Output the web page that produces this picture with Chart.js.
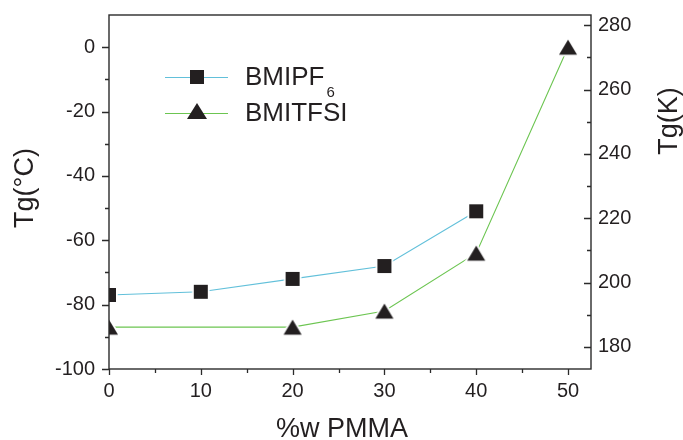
<!DOCTYPE html>
<html>
<head>
<meta charset="utf-8">
<script src="https://cdn.jsdelivr.net/npm/chart.js@4/dist/chart.umd.min.js"></script>
<style>
  html, body { margin: 0; padding: 0; background: #fff; }
  #wrap { width: 683px; height: 440px; }
</style>
</head>
<body>
<div id="wrap"><canvas id="tgChart" width="683" height="440"></canvas></div>
<script>
// ---- data ----
const pf6Pmma = [0, 10, 20, 30, 40];
const pf6Tg = [-77, -76, -72, -68, -51];
const tfsiPmma = [0, 20, 30, 40, 50];
const tfsiTg = [-87, -87, -82, -64, 0];

const xTicks = [0, 5, 10, 15, 20, 25, 30, 35, 40, 45, 50];
const yTicks = [-100, -90, -80, -70, -60, -50, -40, -30, -20, -10, 0];
const kTicks = [180, 190, 200, 210, 220, 230, 240, 250, 260, 270, 280];

const KELVIN = 273.15;
const Y_MIN = -100, Y_MAX = 10;
const INK = '#231f20';
const FONT = '"Liberation Sans", Arial, sans-serif';

// marker images with a thin white halo (gap between line and symbol)
function makeMarker(shape) {
    const c = document.createElement('canvas');
    c.width = 24; c.height = 24;
    const g = c.getContext('2d');
    g.beginPath();
    if (shape === 'square') {
        g.rect(5, 5, 14, 14);
    } else {
        g.moveTo(12, 4.5); g.lineTo(21, 19.5); g.lineTo(3, 19.5); g.closePath();
    }
    g.lineWidth = 3.5; g.strokeStyle = '#fff'; g.lineJoin = 'miter';
    g.stroke();
    g.fillStyle = INK;
    g.fill();
    return c;
}
const squareImg = makeMarker('square');
const triImg = makeMarker('triangle');

function toXY(xs, ys) {
    return xs.map((x, i) => ({ x: x, y: ys[i] }));
}

function noPad(s) {
    s.paddingTop = 0; s.paddingBottom = 0;
    s.paddingLeft = 0; s.paddingRight = 0;
}

// keep symbols inside the plot box (half symbols at x = 0)
const clipPlugin = {
    id: 'clipBox',
    beforeDatasetsDraw(chart) {
        const a = chart.chartArea;
        chart.ctx.save();
        chart.ctx.beginPath();
        chart.ctx.rect(a.left, a.top, a.right - a.left, a.bottom - a.top);
        chart.ctx.clip();
    },
    afterDatasetsDraw(chart) {
        chart.ctx.restore();
    }
};

// frame, tick marks, axis titles and legend
const decorPlugin = {
    id: 'decor',
    afterDraw(chart) {
        const ctx = chart.ctx;
        const a = chart.chartArea;
        const sx = chart.scales.x, sy = chart.scales.y, sk = chart.scales.y2;
        ctx.save();
        ctx.strokeStyle = '#2b2b2b';
        ctx.lineWidth = 1.4;
        ctx.strokeRect(a.left, a.top, a.right - a.left, a.bottom - a.top);

        ctx.lineWidth = 1.3;
        ctx.beginPath();
        xTicks.forEach(v => {
            const p = Math.round(sx.getPixelForValue(v)) + 0.5;
            const len = v % 10 === 0 ? 6 : 4;
            ctx.moveTo(p, a.bottom); ctx.lineTo(p, a.bottom + len);
        });
        yTicks.forEach(v => {
            const p = Math.round(sy.getPixelForValue(v)) + 0.5;
            const len = v % 20 === 0 ? 7 : 4;
            ctx.moveTo(a.left - len, p); ctx.lineTo(a.left, p);
        });
        kTicks.forEach(v => {
            const p = Math.round(sk.getPixelForValue(v)) + 0.5;
            const len = v % 20 === 0 ? 7 : 4;
            ctx.moveTo(a.right - len, p); ctx.lineTo(a.right, p);
        });
        ctx.stroke();

        // axis titles
        ctx.fillStyle = INK;
        ctx.font = '27px ' + FONT;
        ctx.textAlign = 'center';
        ctx.textBaseline = 'alphabetic';
        ctx.fillText('%w PMMA', 342, 437);

        ctx.save();
        ctx.translate(33, 188);
        ctx.rotate(-Math.PI / 2);
        ctx.fillText('Tg(°C)', 0, 0);
        ctx.restore();

        ctx.save();
        ctx.translate(677, 121);
        ctx.rotate(-Math.PI / 2);
        ctx.fillText('Tg(K)', 0, 0);
        ctx.restore();

        // legend
        ctx.lineWidth = 1.1;
        ctx.strokeStyle = '#62c0da';
        ctx.beginPath(); ctx.moveTo(165, 77.5); ctx.lineTo(228, 77.5); ctx.stroke();
        ctx.strokeStyle = '#6cc551';
        ctx.beginPath(); ctx.moveTo(165, 113.5); ctx.lineTo(228, 113.5); ctx.stroke();

        ctx.fillStyle = INK;
        ctx.fillRect(190, 70, 14, 14);
        ctx.beginPath();
        ctx.moveTo(197, 103); ctx.lineTo(207, 119); ctx.lineTo(187, 119); ctx.closePath();
        ctx.fill();

        ctx.textAlign = 'left';
        ctx.font = '26px ' + FONT;
        ctx.fillText('BMIPF', 245, 85);
        const w = ctx.measureText('BMIPF').width;
        ctx.font = '15px ' + FONT;
        ctx.fillText('6', 245 + w + 2, 97);
        ctx.font = '26px ' + FONT;
        ctx.fillText('BMITFSI', 245, 121);
        ctx.restore();
    }
};

const ctx = document.getElementById('tgChart').getContext('2d');
const tgChart = new Chart(ctx, {
    type: 'line',
    data: {
        datasets: [{
            label: 'BMIPF6',
            data: toXY(pf6Pmma, pf6Tg),
            borderColor: '#62c0da',
            borderWidth: 1.1,
            pointStyle: squareImg,
            pointRadius: 8,
            tension: 0,
            clip: 0,
            yAxisID: 'y'
        }, {
            label: 'BMITFSI',
            data: toXY(tfsiPmma, tfsiTg),
            borderColor: '#6cc551',
            borderWidth: 1.1,
            pointStyle: triImg,
            pointRadius: 8,
            tension: 0,
            clip: 0,
            yAxisID: 'y'
        }]
    },
    options: {
        responsive: false,
        animation: false,
        layout: { padding: { top: 15, left: 0, right: 0, bottom: 0 } },
        plugins: {
            legend: { display: false },
            tooltip: { enabled: false }
        },
        scales: {
            x: {
                type: 'linear',
                min: 0,
                max: 52.5,
                grid: { display: false, drawTicks: false },
                border: { display: false },
                afterBuildTicks: s => { s.ticks = xTicks.map(v => ({ value: v })); },
                afterFit: s => { s.height = 71; noPad(s); },
                ticks: {
                    autoSkip: false,
                    maxRotation: 0,
                    padding: 10,
                    color: INK,
                    font: { family: FONT, size: 20 },
                    callback: v => (v % 10 === 0 ? v : '')
                }
            },
            y: {
                position: 'left',
                min: Y_MIN,
                max: Y_MAX,
                grid: { display: false, drawTicks: false },
                border: { display: false },
                afterBuildTicks: s => { s.ticks = yTicks.map(v => ({ value: v })); },
                afterFit: s => { s.width = 109; noPad(s); },
                ticks: {
                    autoSkip: false,
                    padding: 14,
                    color: INK,
                    font: { family: FONT, size: 20 },
                    callback: v => (v % 20 === 0 ? v : '')
                }
            },
            y2: {
                position: 'right',
                min: Y_MIN + KELVIN,
                max: Y_MAX + KELVIN,
                grid: { display: false, drawTicks: false },
                border: { display: false },
                afterBuildTicks: s => { s.ticks = kTicks.map(v => ({ value: v })); },
                afterFit: s => { s.width = 92; noPad(s); },
                ticks: {
                    autoSkip: false,
                    padding: 7,
                    color: INK,
                    font: { family: FONT, size: 20 },
                    callback: v => (v % 20 === 0 ? v : '')
                }
            }
        }
    },
    plugins: [clipPlugin, decorPlugin]
});
</script>
</body>
</html>
